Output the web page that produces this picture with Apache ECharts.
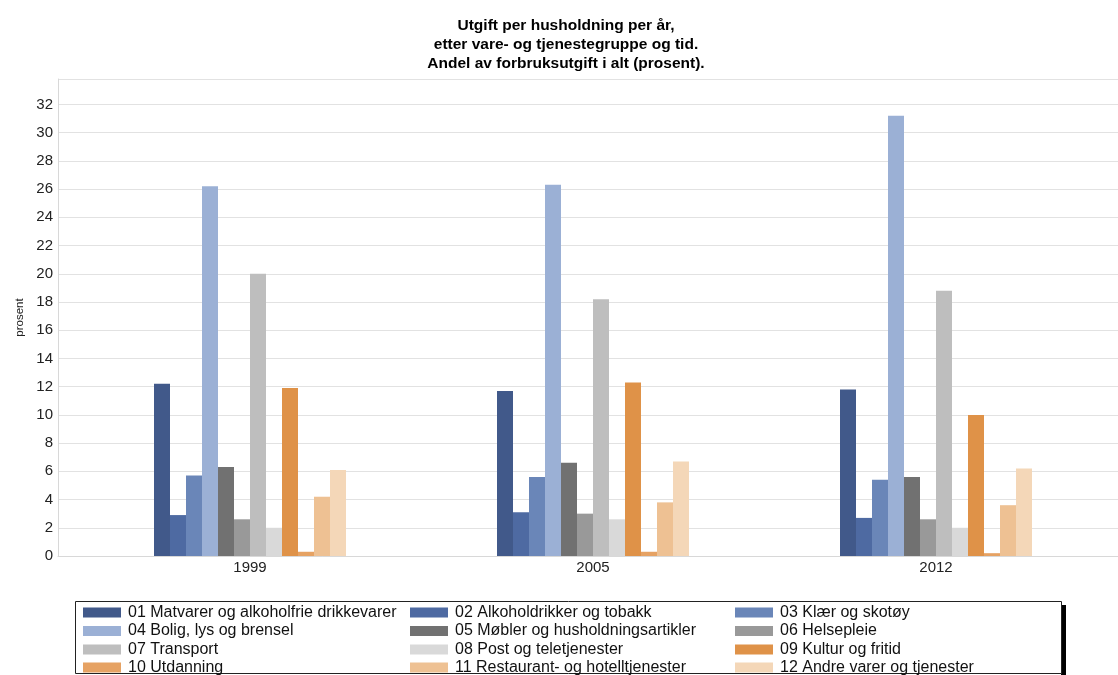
<!DOCTYPE html>
<html>
<head>
<meta charset="utf-8">
<script src="https://cdn.jsdelivr.net/npm/echarts@6/dist/echarts.min.js"></script>
<style>
  html, body { margin: 0; padding: 0; background: #fff; }
  #chart { width: 1118px; height: 675px; }
</style>
</head>
<body>
<div id="chart"></div>
<script>
// Utgift per husholdning: andel av forbruksutgift (prosent) per varegruppe
const years = ['1999', '2005', '2012'];

const titleLines = [
  'Utgift per husholdning per år,',
  'etter vare- og tjenestegruppe og tid.',
  'Andel av forbruksutgift i alt (prosent).'
];

const groupNames = [
  '01 Matvarer og alkoholfrie drikkevarer',
  '02 Alkoholdrikker og tobakk',
  '03 Klær og skotøy',
  '04 Bolig, lys og brensel',
  '05 Møbler og husholdningsartikler',
  '06 Helsepleie',
  '07 Transport',
  '08 Post og teletjenester',
  '09 Kultur og fritid',
  '10 Utdanning',
  '11 Restaurant- og hotelltjenester',
  '12 Andre varer og tjenester'
];

const groupColors = [
  '#41598a', '#4e6aa2', '#6a86b8', '#9bb0d5',
  '#717171', '#999999', '#bebebe', '#d9d9d9',
  '#df9248', '#e6a263', '#eec193', '#f4d7b8'
];

// one array per group: values for 1999, 2005, 2012
const v01 = [12.2, 11.7, 11.8];
const v02 = [2.9, 3.1, 2.7];
const v03 = [5.7, 5.6, 5.4];
const v04 = [26.2, 26.3, 31.2];
const v05 = [6.3, 6.6, 5.6];
const v06 = [2.6, 3.0, 2.6];
const v07 = [20.0, 18.2, 18.8];
const v08 = [2.0, 2.6, 2.0];
const v09 = [11.9, 12.3, 10.0];
const v10 = [0.3, 0.3, 0.2];
const v11 = [4.2, 3.8, 3.6];
const v12 = [6.1, 6.7, 6.2];

const groupValues = [v01, v02, v03, v04, v05, v06, v07, v08, v09, v10, v11, v12];

const yMin = 0;
const yMax = 33.8;
const yStep = 2;

const FONT = '"Liberation Sans", Arial, sans-serif';
const gridTop = 79;
const gridBottom = 119;

const chart = echarts.init(document.getElementById('chart'));

const series = groupNames.map((name, i) => ({
  name: name,
  type: 'bar',
  xAxisIndex: 1,
  yAxisIndex: 1,
  barWidth: 16,
  barGap: '0%',
  data: groupValues[i],
  itemStyle: { color: groupColors[i] },
  emphasis: { disabled: true },
  animation: false
}));

// legend: three columns, four rows, one small legend per entry
const legendColLeft = [83, 410, 735];
const legendRowMid = [611, 629.5, 648, 666];
const legends = groupNames.map((name, i) => {
  const col = i % 3;
  const row = Math.floor(i / 3);
  return {
    left: legendColLeft[col],
    top: legendRowMid[row] - 6.5,
    padding: 0,
    itemWidth: 38,
    itemHeight: 10,
    selectedMode: false,
    icon: 'rect',
    data: [name],
    textStyle: { fontFamily: FONT, fontSize: 16, color: '#111', padding: [0, 0, 0, 2], lineHeight: 16 }
  };
});

// three centred title lines
const titleGraphics = titleLines.map((line, i) => ({
  type: 'text',
  silent: true,
  x: 566,
  y: 25.5 + i * 19,
  style: {
    text: line,
    font: 'bold 15.5px "Liberation Sans", Arial, sans-serif',
    fill: '#000',
    align: 'center',
    verticalAlign: 'middle'
  }
}));

chart.setOption({
  backgroundColor: '#ffffff',
  animation: false,
  legend: legends,
  grid: [
    { left: 58, right: 0, top: gridTop, bottom: gridBottom },
    { left: 78.5, right: 10.5, top: gridTop, bottom: gridBottom }
  ],
  xAxis: [
    {
      gridIndex: 0, type: 'value', min: 0, max: 1,
      axisLine: { show: true, onZero: false, lineStyle: { color: '#d8d8d8' } },
      axisTick: { show: false }, axisLabel: { show: false }, splitLine: { show: false }
    },
    {
      gridIndex: 1, type: 'category', data: years,
      axisLine: { show: false }, axisTick: { show: false },
      axisLabel: { fontFamily: FONT, fontSize: 15, color: '#222', margin: 4 }
    }
  ],
  yAxis: [
    {
      gridIndex: 0, type: 'value', min: yMin, max: yMax, interval: yStep,
      name: 'prosent', nameLocation: 'middle', nameGap: 32, nameRotate: 90,
      nameTextStyle: { fontFamily: FONT, fontSize: 11.5, color: '#222' },
      axisLine: { show: true, lineStyle: { color: '#d8d8d8' } },
      axisTick: { show: false },
      axisLabel: { fontFamily: FONT, fontSize: 15, color: '#222', margin: 5, showMaxLabel: false },
      splitLine: { show: true, lineStyle: { color: '#e2e2e2', width: 1 } }
    },
    {
      gridIndex: 1, type: 'value', min: yMin, max: yMax, interval: yStep, show: false,
      splitLine: { show: false }
    }
  ],
  series: series,
  graphic: [
    {
      type: 'rect', z: -1, silent: true,
      shape: { x: 1061, y: 605, width: 5, height: 75 },
      style: { fill: '#000' }
    },
    {
      type: 'rect', z: -1, silent: true,
      shape: { x: 75.5, y: 601.5, width: 986, height: 72 },
      style: { fill: '#fff', stroke: '#222', lineWidth: 1 }
    }
  ].concat(titleGraphics)
});
</script>
</body>
</html>
